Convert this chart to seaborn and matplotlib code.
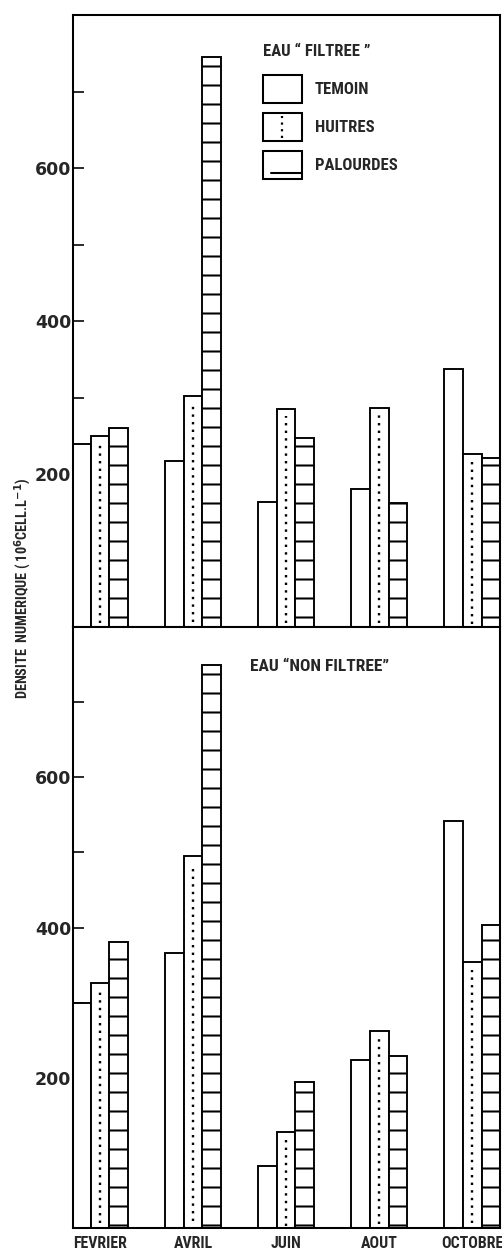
import matplotlib
matplotlib.use("Agg")
import matplotlib.pyplot as plt
from matplotlib.patches import Rectangle
from matplotlib.lines import Line2D
from matplotlib.legend_handler import HandlerBase
import seaborn as sns
import pandas as pd

# Monthly phytoplankton cell densities (10^6 cells per litre)
months = ["FEVRIER", "AVRIL", "JUIN", "AOUT", "OCTOBRE"]
treatments = ["TEMOIN", "HUITRES", "PALOURDES"]

filtered_temoin = [239, 217, 163, 181, 337]
filtered_huitres = [250, 302, 285, 286, 226]
filtered_palourdes = [260, 745, 247, 162, 221]

unfiltered_temoin = [300, 366, 83, 224, 542]
unfiltered_huitres = [326, 495, 128, 262, 354]
unfiltered_palourdes = [381, 750, 194, 229, 403]

y_ticks = [100, 200, 300, 400, 500, 600, 700]
y_ticklabels = ["", "200", "", "400", "", "600", ""]


def long_table(temoin, huitres, palourdes):
    rows = []
    for name, vals in zip(treatments, [temoin, huitres, palourdes]):
        for m, v in zip(months, vals):
            rows.append({"mois": m, "traitement": name, "densite": v})
    return pd.DataFrame(rows)


df_filtered = long_table(filtered_temoin, filtered_huitres, filtered_palourdes)
df_unfiltered = long_table(unfiltered_temoin, unfiltered_huitres, unfiltered_palourdes)

sns.set_style("white")
plt.rcParams["hatch.linewidth"] = 1.3
plt.rcParams["font.family"] = ["DejaVu Sans"]

narrow = ["Roboto Condensed", "Roboto", "DejaVu Sans"]

fig = plt.figure(figsize=(502 / 114, 1254 / 114), dpi=114)
ax_top = fig.add_axes([0.1454, 0.5, 0.8506, 0.488])
ax_bot = fig.add_axes([0.1454, 0.0207, 0.8506, 0.4793])

EDGE_LW = 1.2


def draw_panel(ax, df):
    sns.barplot(data=df, x="mois", y="densite", hue="traitement",
                order=months, hue_order=treatments,
                palette=["white"] * 3, edgecolor="black", linewidth=EDGE_LW,
                width=0.61, gap=0, legend=False, ax=ax)
    # horizontal hatching for PALOURDES
    for bar in ax.containers[2]:
        bar.set_hatch("-")
        bar.set_edgecolor("black")
    # dotted centre line for HUITRES
    for bar in ax.containers[1]:
        cx = bar.get_x() + bar.get_width() / 2
        h = bar.get_height()
        ax.plot([cx, cx], [h * 0.02, h * 0.97], color="black",
                linestyle=(0, (1, 2.2)), lw=1.5, zorder=3)
    ax.set_xlim(-0.29, 4.30)
    ax.set_ylim(0, 800)
    ax.set_yticks(y_ticks)
    ax.set_yticklabels(y_ticklabels, fontsize=11, fontweight="bold")
    ax.tick_params(axis="y", direction="in", length=7, width=1.2, pad=1,
                   left=True, right=False)
    ax.tick_params(axis="x", length=0)
    ax.set_xlabel("")
    ax.set_ylabel("")
    for s in ax.spines.values():
        s.set_visible(True)
        s.set_linewidth(1.3)
        s.set_color("black")


draw_panel(ax_top, df_filtered)
draw_panel(ax_bot, df_unfiltered)

ax_top.set_xticklabels([])
ax_bot.set_xticklabels(months, family=narrow, fontweight="bold", fontsize=10)
ax_bot.tick_params(axis="x", pad=5)


class BarSymbol(HandlerBase):
    def __init__(self, style):
        super().__init__()
        self.style = style

    def create_artists(self, legend, orig_handle, xdescent, ydescent,
                       width, height, fontsize, trans):
        y0 = -ydescent - 0.45 * height
        y1 = -ydescent + 1.35 * height
        arts = [Rectangle((-xdescent, y0), width, y1 - y0,
                          facecolor="white", edgecolor="black", lw=1.3,
                          transform=trans)]
        if self.style == "dot":
            cx = -xdescent + width * 0.48
            arts.append(Line2D([cx, cx], [y0 + 0.2 * height, y1 - 0.2 * height],
                               color="black", linestyle=(0, (1, 2)), lw=1.4,
                               transform=trans))
        elif self.style == "line":
            yy = y0 + 0.4 * height
            arts.append(Line2D([-xdescent + 0.2 * width, -xdescent + width], [yy, yy],
                               color="black", lw=1.3, transform=trans))
        return arts


LEG_FS = 10.5
h_temoin = Rectangle((0, 0), 1, 1)
h_huitres = Rectangle((0, 0), 1, 1)
h_palourdes = Rectangle((0, 0), 1, 1)
leg = ax_top.legend([h_temoin, h_huitres, h_palourdes], treatments,
                    handler_map={h_temoin: BarSymbol("plain"),
                                 h_huitres: BarSymbol("dot"),
                                 h_palourdes: BarSymbol("line")},
                    title="EAU \u201c FILTREE \u201d",
                    title_fontproperties={"family": narrow, "weight": "bold", "size": LEG_FS},
                    prop={"family": narrow, "weight": "bold", "size": LEG_FS},
                    loc="upper left", bbox_to_anchor=(0.418, 0.972),
                    frameon=False, handlelength=2.35, handleheight=1.05,
                    handletextpad=0.75, labelspacing=1.3, borderpad=0.2,
                    alignment="left")
leg._legend_handle_box.sep = 12

ax_bot.text(0.415, 0.935, "EAU \u201cNON FILTREE\u201d", transform=ax_bot.transAxes,
            family=narrow, fontweight="bold", fontsize=11, ha="left", va="center")

fig.text(0.046, 0.531, "DENSITE  NUMERIQUE ( 10$^{\\mathbf{6}}$CELL.L$^{\\mathbf{-1}}$)",
         rotation=90, ha="center", va="center",
         family=narrow, fontweight="bold", fontsize=9)

fig.savefig("out.png", dpi=114, facecolor="white")
